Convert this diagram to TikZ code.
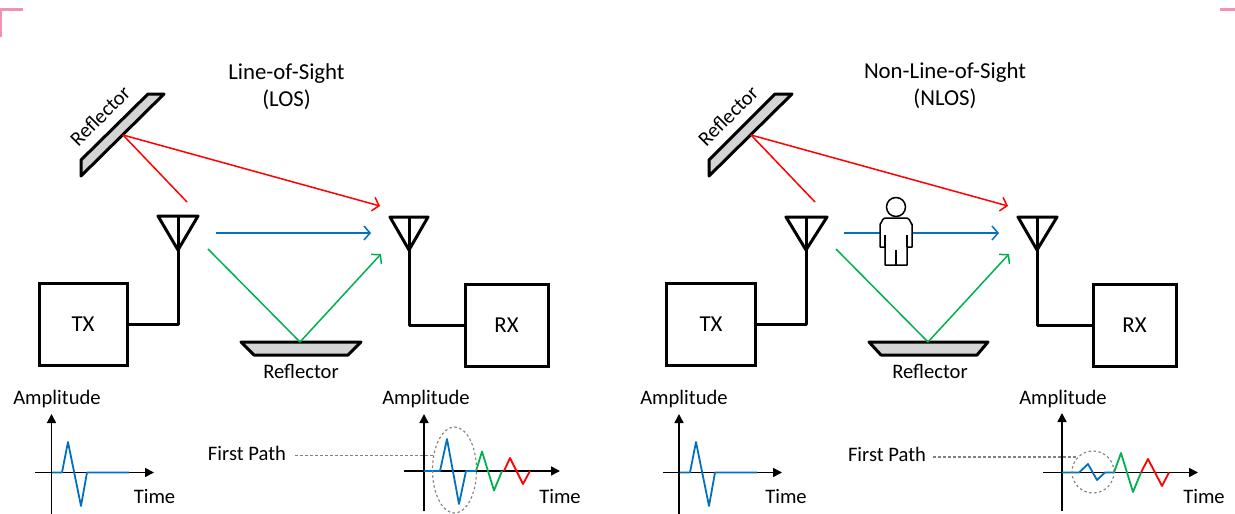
\documentclass[tikz,border=0pt]{standalone}
\usepackage{fontspec}
\setmainfont{Carlito}
\usetikzlibrary{arrows.meta}
\usetikzlibrary{shapes.geometric}
\definecolor{losblue}{HTML}{0070C0}
\definecolor{losgreen}{HTML}{00B050}
\definecolor{cornerpink}{HTML}{F291B2}
\tikzstyle{txt} = [font=\fontsize{20.6}{27}\selectfont, align=center, inner sep=0pt]
\tikzstyle{bigtxt} = [font=\fontsize{22.8}{27}\selectfont, align=center, inner sep=0pt]
\tikzstyle{unit} = [draw, line width=3pt, minimum width=88pt, minimum height=82pt, bigtxt]
\tikzstyle{wire} = [draw, line width=3pt, line join=round]
\tikzstyle{mirror} = [wire, fill=black!17]
\tikzstyle{ray} = [line width=1.5pt, -{Straight Barb[length=6pt,width=14pt,line width=1.5pt]}]
\tikzstyle{axis} = [line width=1.6pt, -{Triangle[length=9pt,width=9pt]}]
\tikzstyle{pulse} = [line width=1.8pt, line join=round]
\tikzstyle{guide} = [line width=1.1pt, gray, dash pattern=on 2.5pt off 2.5pt]
\tikzstyle{ring} = [draw=gray, line width=1.1pt, dash pattern=on 2.5pt off 2.5pt, inner sep=0pt]

\begin{document}
\begin{tikzpicture}[x=1pt, y=-1pt]
    \useasboundingbox (0,0) rectangle (1235,514);
    \draw[cornerpink, line width=3pt] (23,9) -- (0,9) -- (0,37);
    \draw[cornerpink, line width=3pt] (1220,9) -- (1235,9);

    % line of sight
    \node[bigtxt] (titleL) at (286.5,87) {Line-of-Sight\\(LOS)};
    \node[unit, minimum width=88pt] (txL) at (83,324) {TX};
    \node[unit, minimum width=83pt] (rxL) at (506.5,325) {RX};
    \draw[mirror] (148,94) -- (164,94) -- (81,176) -- (81,160) -- cycle;
    \draw[mirror] (241,342) -- (361,342) -- (348,355) -- (254,355) -- cycle;
    \node[txt, rotate=45] (refaL) at (100,116) {Reflector};
    \node[txt] (refbL) at (301,371) {Reflector};
    \coordinate (antaL) at (178,216);
    \coordinate (antbL) at (409,217);
    \draw[wire] (158,216) -- (198,216) -- (178,250) -- cycle;
    \draw[wire] (390,217) -- (428,217) -- (409,250) -- cycle;
    \draw[wire] (antaL) |- (txL.east);
    \draw[wire] (antbL) |- (rxL.west);
    \coordinate (hitaL) at (123,135);
    \coordinate (hitbL) at (300,342);
    \coordinate (outaL) at (187,202);
    \coordinate (outbL) at (216,233);
    \coordinate (outcL) at (208,249);
    \coordinate (inaL) at (380,206);
    \coordinate (inbL) at (371,233);
    \coordinate (incL) at (381,254);
    \draw[red, line width=1.5pt] (outaL) -- (hitaL);
    \draw[ray, red] (hitaL) -- (inaL);
    \draw[ray, losblue] (outbL) -- (inbL);
    \draw[losgreen, line width=1.5pt] (outcL) -- (hitbL);
    \draw[ray, losgreen] (hitbL) -- (incL);

    % non line of sight
    \node[bigtxt] (titleN) at (945,86) {Non-Line-of-Sight\\(NLOS)};
    \node[unit, minimum width=89pt] (txN) at (711,324) {TX};
    \node[unit, minimum width=83pt] (rxN) at (1134.5,325) {RX};
    \draw[mirror] (775,94) -- (792,94) -- (709,176) -- (709,160) -- cycle;
    \draw[mirror] (869,342) -- (988,342) -- (977,355) -- (881,355) -- cycle;
    \node[txt, rotate=45] (refaN) at (728,116) {Reflector};
    \node[txt] (refbN) at (930,371) {Reflector};
    \coordinate (antaN) at (806,217);
    \coordinate (antbN) at (1037,217);
    \draw[wire] (786,217) -- (827,217) -- (806,250) -- cycle;
    \draw[wire] (1018,217) -- (1057,217) -- (1037,250) -- cycle;
    \draw[wire] (antaN) |- (txN.east);
    \draw[wire] (antbN) |- (rxN.west);
    \coordinate (hitaN) at (751,135);
    \coordinate (hitbN) at (928,342);
    \coordinate (outaN) at (815,202);
    \coordinate (outbN) at (844,233);
    \coordinate (outcN) at (836,249);
    \coordinate (inaN) at (1008,206);
    \coordinate (inbN) at (999,233);
    \coordinate (incN) at (1009,254);
    \draw[red, line width=1.5pt] (outaN) -- (hitaN);
    \draw[ray, red] (hitaN) -- (inaN);
    \draw[ray, losblue] (outbN) -- (inbN);
    \draw[losgreen, line width=1.5pt] (outcN) -- (hitbN);
    \draw[ray, losgreen] (hitbN) -- (incN);

    % person
    \draw[line width=1.5pt, fill=white] (896,207) circle (9.5);
    \draw[line width=1.5pt, line join=round, fill=white] (880,247) -- (880,224) to[out=-90, in=180] (885,218)
        -- (907,218) to[out=0, in=-90] (912,224) -- (912,247) -- (907,247) -- (907,265)
        -- (885,265) -- (885,247) -- cycle;
    \draw[line width=1.5pt] (885,235) -- (885,247) (907,235) -- (907,247) (896,250) -- (896,265);

    % plots, sent pulse
    \coordinate (xaA) at (35,472.5);
    \coordinate (xbA) at (154,472.5);
    \coordinate (yaA) at (51.5,514);
    \coordinate (ybA) at (51.5,414);
    \draw[axis] (xaA) -- (xbA);
    \draw[axis] (yaA) -- (ybA);
    \node[txt] (ampA) at (57,399) {Amplitude};
    \node[txt] (timeA) at (154.5,496) {Time};
    \draw[pulse, losblue] (52,472.5) -- (62,472.5) -- (68,442) -- (81,506) -- (87,472.5) -- (129,472.5);

    \coordinate (xaC) at (663,472.5);
    \coordinate (xbC) at (782,472.5);
    \coordinate (yaC) at (679,514);
    \coordinate (ybC) at (679,414);
    \draw[axis] (xaC) -- (xbC);
    \draw[axis] (yaC) -- (ybC);
    \node[txt] (ampC) at (684,399) {Amplitude};
    \node[txt] (timeC) at (786,496) {Time};
    \draw[pulse, losblue] (680,472.5) -- (690,472.5) -- (696,442) -- (709,506) -- (715,472.5) -- (757,472.5);

    % plots, received pulse
    \coordinate (xaB) at (404,471);
    \coordinate (xbB) at (560,471);
    \coordinate (yaB) at (424,511);
    \coordinate (ybB) at (424,414);
    \draw[axis] (xaB) -- (xbB);
    \draw[axis] (yaB) -- (ybB);
    \node[txt] (ampB) at (426,399) {Amplitude};
    \node[txt] (timeB) at (560,496) {Time};
    \draw[pulse, losblue] (424,471) -- (440,471) -- (447,439) -- (459,504) -- (466,471) -- (476,471);
    \draw[pulse, losgreen] (476,471) -- (482,451.5) -- (494,490.5) -- (502,471);
    \draw[pulse, red] (504,471) -- (510,458) -- (523,484) -- (530,471);
    \node[ring, ellipse, minimum width=44pt, minimum height=86pt] (pathB) at (454.5,470) {};
    \node[txt] (firstB) at (247,453) {First Path};
    \coordinate (firstendB) at (435,455.5);
    \draw[guide] (295,455.5) -- (firstendB);

    \coordinate (xaD) at (1043,472.5);
    \coordinate (xbD) at (1198,472.5);
    \coordinate (yaD) at (1062,511);
    \coordinate (ybD) at (1062,413);
    \draw[axis] (xaD) -- (xbD);
    \draw[axis] (yaD) -- (ybD);
    \node[txt] (ampD) at (1063,399) {Amplitude};
    \node[txt] (timeD) at (1204,496) {Time};
    \draw[pulse, losblue] (1062,472.5) -- (1079,472.5) -- (1088,464) -- (1097,480) -- (1105,472.5) -- (1114,472.5);
    \draw[pulse, losgreen] (1114,472.5) -- (1121,453) -- (1133,492) -- (1141,472.5);
    \draw[pulse, red] (1141,472.5) -- (1148,459) -- (1162,486) -- (1169,472.5);
    \node[ring, circle, minimum size=42pt] (pathD) at (1093,472) {};
    \node[txt] (firstD) at (887,454) {First Path};
    \coordinate (firstendD) at (1077,457);
    \draw[guide] (933,457) -- (firstendD);
\end{tikzpicture}
\end{document}
